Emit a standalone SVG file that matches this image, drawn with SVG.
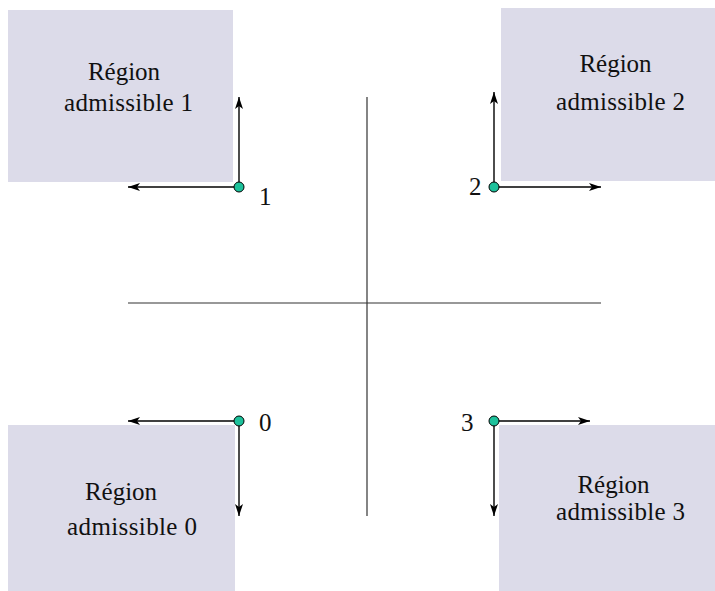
<svg xmlns="http://www.w3.org/2000/svg" width="715" height="591" viewBox="0 0 715 591">
<style>
.reg{fill:#dcdbe9}
text{font-family:'Liberation Serif','Times New Roman',serif;font-size:25px;fill:#111}
.ax{stroke:#333;stroke-width:1.2;fill:none}
.ar{stroke:#000;stroke-width:1.4;fill:none;marker-end:url(#ah)}
.pt{fill:#1dc19b;stroke:#000;stroke-width:1}
</style>
<defs>
<marker id="ah" viewBox="0 0 12 8" refX="12" refY="4" markerWidth="12" markerHeight="8" markerUnits="userSpaceOnUse" orient="auto">
<path d="M0,0 L12,4 L0,8 L3,4 Z" fill="#000"/>
</marker>
</defs>
<g id="region1"><rect class="reg" x="8" y="10" width="225" height="172"/>
<text font-family="Liberation Serif, serif" x="124" y="80" text-anchor="middle">Région</text>
<text font-family="Liberation Serif, serif" x="128.5" y="111" text-anchor="middle" textLength="129">admissible 1</text></g>
<g id="region2"><rect class="reg" x="501" y="8" width="214" height="173"/>
<text font-family="Liberation Serif, serif" x="615.5" y="72" text-anchor="middle">Région</text>
<text font-family="Liberation Serif, serif" x="620.5" y="110" text-anchor="middle" textLength="129">admissible 2</text></g>
<g id="region0"><rect class="reg" x="8" y="425" width="227" height="166"/>
<text font-family="Liberation Serif, serif" x="121" y="500" text-anchor="middle">Région</text>
<text font-family="Liberation Serif, serif" x="132" y="535" text-anchor="middle" textLength="130">admissible 0</text></g>
<g id="region3"><rect class="reg" x="499" y="425" width="216" height="166"/>
<text font-family="Liberation Serif, serif" x="613.5" y="493" text-anchor="middle">Région</text>
<text font-family="Liberation Serif, serif" x="620.5" y="520" text-anchor="middle" textLength="129">admissible 3</text></g>
<g id="axes">
<line class="ax" x1="367" y1="97" x2="367" y2="516"/>
<line class="ax" x1="128" y1="303" x2="601" y2="303"/>
</g>
<g id="connectors">
<line class="ar" x1="239" y1="187" x2="239" y2="97"/>
<line class="ar" x1="239" y1="187" x2="128" y2="187"/>
<line class="ar" x1="494" y1="187" x2="494" y2="92"/>
<line class="ar" x1="494" y1="187" x2="601" y2="187"/>
<line class="ar" x1="239" y1="421" x2="128" y2="421"/>
<line class="ar" x1="239" y1="421" x2="239" y2="516"/>
<line class="ar" x1="494" y1="421" x2="590" y2="421"/>
<line class="ar" x1="494" y1="421" x2="494" y2="516"/>
</g>
<g id="point1"><circle class="pt" cx="239" cy="187" r="5"/><text font-family="Liberation Serif, serif" x="259" y="205">1</text></g>
<g id="point2"><circle class="pt" cx="494" cy="187" r="5"/><text font-family="Liberation Serif, serif" x="469" y="195">2</text></g>
<g id="point0"><circle class="pt" cx="239" cy="421" r="5"/><text font-family="Liberation Serif, serif" x="259" y="431">0</text></g>
<g id="point3"><circle class="pt" cx="494" cy="421" r="5"/><text font-family="Liberation Serif, serif" x="461" y="431">3</text></g>
</svg>
